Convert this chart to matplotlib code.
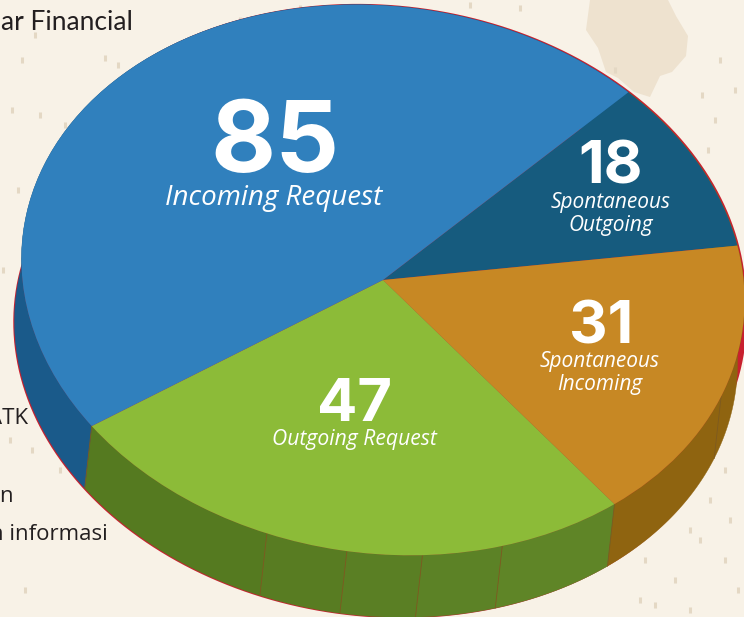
import numpy as np
import matplotlib
matplotlib.use('Agg')
import matplotlib.pyplot as plt
from matplotlib.patches import Polygon
from matplotlib.transforms import Affine2D

W, H = 744, 617

# clockwise from the blue/teal boundary
counts = [18, 31, 47, 85]
captions = ['Spontaneous\nOutgoing', 'Spontaneous\nIncoming', 'Outgoing Request', 'Incoming Request']
top_colors = ['#165b7e', '#c78824', '#8cbb38', '#3080bd']
side_colors = ['#8f6410', '#8f6410', '#587c22', '#1a5a8a']

# digit baseline positions and caption centres, pixels
num_xy = [(611, 183), (601, 343), (354, 421), (275, 172)]
num_size = [43, 43, 43, 72]
cap_xy = [(611, 214), (600, 373), (354, 440), (274, 198)]
cap_size = [15, 15, 15.2, 20]

brown_seam = [345]
green_seams = [257, 270, 282, 295]
green_panels = ['#557a20', '#587c22', '#5a7f24', '#5c8226', '#5f8527']

side_texts = ['ar Financial', 'ATK', 'n', 'n informasi']
side_text_xy = [(133, 22), (28, 418), (13, 497), (108, 535)]
side_text_size = [19, 16, 16, 16]

stain_x = [590, 586, 598, 606, 618, 634, 650, 660, 672, 686, 688, 676, 668]
stain_y = [0, 30, 48, 72, 78, 92, 97, 76, 72, 56, 36, 16, 0]
flecks_x = [35, 12, 118, 105, 40, 18, 22, 65, 178, 195, 70, 45, 240, 300, 22, 142, 205, 600, 615,
            702, 715, 708, 700, 728, 664, 645, 680, 700, 655, 735, 3, 32, 60, 25, 10, 470, 520,
            720, 735, 725, 690, 710, 675, 640, 725, 738, 690, 730]
flecks_y = [35, 110, 65, 58, 115, 190, 60, 125, 60, 40, 310, 195, 20, 8, 260, 70, 545, 85, 70,
            95, 120, 150, 180, 220, 510, 560, 495, 540, 605, 340, 270, 450, 470, 590, 440, 5, 8,
            60, 90, 470, 530, 500, 580, 600, 560, 590, 610, 520]

# top face: ellipse tilted about 7.6 degrees
cx, cy, rx, ry = 383, 280, 363, 273.6
cos_t, sin_t = 0.991, 0.132
dx, dy = -7, 62

unit_to_px = Affine2D.from_values(rx * cos_t, rx * sin_t, ry * sin_t, -ry * cos_t, cx, cy)


def rim(a0, a1, shift=(0, 0), n=80):
    t = np.radians(np.linspace(a0, a1, n))
    return unit_to_px.transform(np.c_[np.cos(t), np.sin(t)]) + shift


fig = plt.figure(figsize=(W / 100, H / 100), dpi=100, facecolor='#f8f2e7')
ax = fig.add_axes([0, 0, 1, 1])

wedges, _ = ax.pie(counts, colors=top_colors, startangle=53, counterclock=False, radius=1,
                   center=(0, 0), wedgeprops={'linewidth': 0, 'zorder': 5}, frame=True)
for w in wedges:
    w.set_transform(unit_to_px + ax.transData)

ax.set_aspect('auto')
ax.set_xlim(0, W)
ax.set_ylim(H, 0)
ax.axis('off')

ax.add_patch(Polygon(np.c_[stain_x, stain_y], color='#eee2cf', lw=0, zorder=0))
ax.scatter(flecks_x, flecks_y, s=18, marker='|', color='#e4d8c4', linewidths=2.2, zorder=0)
for txt, (x, y), fs in zip(side_texts, side_text_xy, side_text_size):
    ax.text(x, y, txt, ha='right', va='center', fontsize=fs, color='#231f20', zorder=0.5,
            family='Lato' if txt == 'ar Financial' else 'Open Sans')

# thin red rim peeking out behind the body
for sh in [(1.5, -0.8), (dx - 1.2, dy + 0.8), (2, 20)]:
    pts = rim(0, 360, sh, 240)
    ax.fill(pts[:, 0], pts[:, 1], color='#c8202f', lw=0, zorder=1)


def side_wall(a0, a1, color):
    top = rim(a0, a1)
    low = rim(a1, a0, (dx, dy))
    pts = np.r_[top, low]
    ax.fill(pts[:, 0], pts[:, 1], color=color, lw=0.3, zorder=3)


bounds = 53 - np.cumsum(np.r_[0, counts]) / sum(counts) * 360
for i in range(len(counts)):
    a0, a1 = bounds[i], bounds[i + 1]
    if i == 2:
        edges = np.r_[a1 + 360, green_seams, a0 + 360]
        for k, col in enumerate(green_panels):
            side_wall(edges[k], edges[k + 1], col)
    else:
        side_wall(a1, a0, side_colors[i])

for a in brown_seam + green_seams + [bounds[2], bounds[3]]:
    top = rim(a, a, n=1)[0]
    ax.plot([top[0], top[0] + dx], [top[1], top[1] + dy], color='#7d5a20', lw=0.6, zorder=4)

for n, (x, y), fs, cap, (x2, y2), cs in zip(counts, num_xy, num_size, captions, cap_xy, cap_size):
    ax.text(x, y, str(n), ha='center', va='baseline', color='white', fontsize=fs,
            fontweight='bold', family='Inter', zorder=10)
    ax.text(x2, y2, cap, ha='center', va='center', color='white', fontsize=cs,
            style='italic', family='Open Sans', linespacing=1.15, zorder=10)

fig.savefig('out.png', dpi=100, facecolor=fig.get_facecolor())
